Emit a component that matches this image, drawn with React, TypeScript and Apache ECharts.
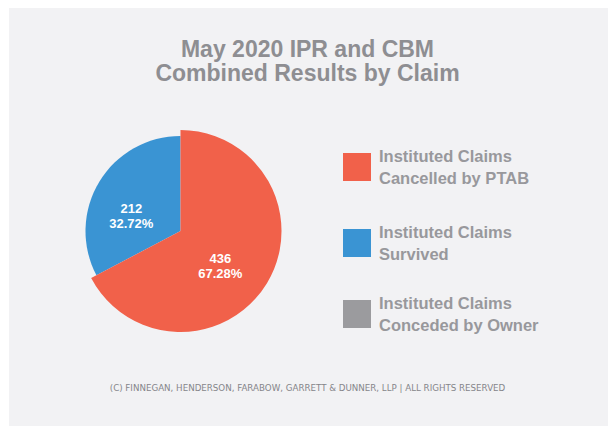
import React, { useEffect, useRef } from "react";
import * as echarts from "echarts";

const titleLines = ["May 2020 IPR and CBM", "Combined Results by Claim"];
const categories = [
  "Instituted Claims Cancelled by PTAB",
  "Instituted Claims Survived",
  "Instituted Claims Conceded by Owner",
];
const values = [436, 212, 0];
const percentLabels = ["67.28%", "32.72%", "0.00%"];
const colors = ["#f1614a", "#3a94d3", "#9b9b9e"];
const footer =
  "(C) FINNEGAN, HENDERSON, FARABOW, GARRETT & DUNNER, LLP | ALL RIGHTS RESERVED";

export default function App() {
  const ref = useRef<HTMLDivElement>(null);
  useEffect(() => {
    if (!ref.current) return;
    const chart = echarts.init(ref.current, undefined, { renderer: "svg" });
    const font = "'Liberation Sans', Arial, sans-serif";

    const makeSeries = (visibleIdx: number, radius: number, z: number) => ({
      type: "pie",
      center: [180.5, 231],
      radius: [0, radius],
      startAngle: 90,
      clockwise: true,
      silent: true,
      z,
      emphasis: { disabled: true },
      labelLine: { show: false },
      data: categories.map((name, i) => ({
        name,
        value: values[i],
        itemStyle: {
          color: i === visibleIdx ? colors[i] : "rgba(0,0,0,0)",
        },
        label: {
          show: i === visibleIdx && values[i] > 0,
          position: "inside",
          formatter: `${values[i]}\n${percentLabels[i]}`,
          color: "#ffffff",
          fontFamily: font,
          fontWeight: "bold",
          fontSize: 13,
          lineHeight: 15,
          offset: i === 1 ? [-6, 11] : [-6, 7],
        },
      })),
    });

    const legendTops = [140, 216, 287];
    const option: any = {
      animation: false,
      backgroundColor: "#ffffff",
      title: [
        {
          text: titleLines.join("\n"),
          left: "center",
          top: 32,
          textStyle: {
            fontFamily: font,
            fontWeight: "bold",
            fontSize: 23,
            lineHeight: 24,
            color: "#8e8e92",
          },
        },
        {
          text: footer,
          left: "center",
          top: 378,
          textStyle: {
            fontFamily: "'DejaVu Sans', sans-serif",
            fontWeight: "normal",
            fontSize: 8.7,
            color: "#85858a",
          },
        },
      ],
      graphic: [
        {
          type: "rect",
          z: -10,
          silent: true,
          shape: { x: 9, y: 8, width: 599, height: 418 },
          style: { fill: "#f2f2f4" },
        },
      ],
      legend: categories.map((name, i) => ({
        orient: "vertical",
        left: 338,
        top: legendTops[i],
        selectedMode: false,
        itemWidth: 28,
        itemHeight: 28,
        icon: "rect",
        data: [{ name, itemStyle: { color: colors[i] } }],
        formatter: (n: string) => n.replace("Instituted Claims ", "Instituted Claims\n"),
        textStyle: {
          fontFamily: font,
          fontWeight: "bold",
          fontSize: 16.5,
          lineHeight: 22,
          color: "#98989c",
          padding: [0, 0, 0, 3],
        },
      })),
      series: [makeSeries(1, 95, 2), makeSeries(0, 101, 3)],
    };
    chart.setOption(option);
    return () => chart.dispose();
  }, []);
  return (
    <div
      ref={ref}
      style={{ position: "absolute", left: 0, top: 0, width: 615, height: 434 }}
    />
  );
}
